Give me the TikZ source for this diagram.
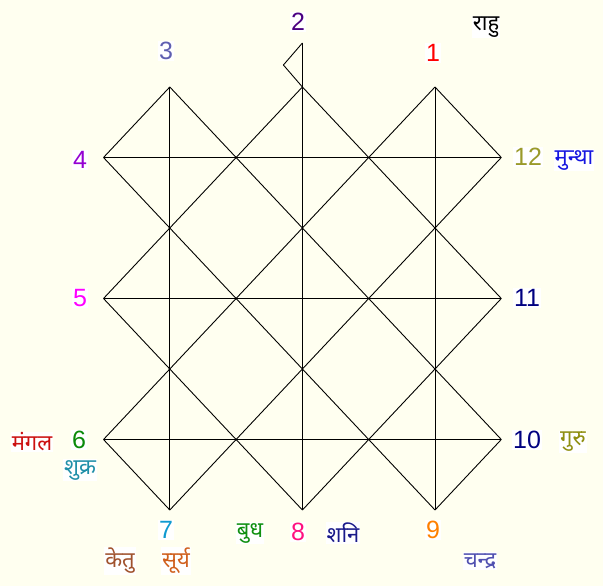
\documentclass[tikz,border=0pt]{standalone}
\usepackage{fontspec}
\usetikzlibrary{calc}
\setmainfont{Liberation Sans}
\newfontfamily\deva[Script=Devanagari]{Noto Sans}
\definecolor{bg}{HTML}{FFFFF0}
\definecolor{cone}{HTML}{FF0000}
\definecolor{ctwo}{HTML}{4B0082}
\definecolor{cthree}{HTML}{5F5FB0}
\definecolor{cfour}{HTML}{9400D3}
\definecolor{cfive}{HTML}{FF00FF}
\definecolor{csix}{HTML}{0A8A0A}
\definecolor{cseven}{HTML}{0F9AD0}
\definecolor{ceight}{HTML}{FF1080}
\definecolor{cnine}{HTML}{FF8000}
\definecolor{cnavy}{HTML}{000080}
\definecolor{colive}{HTML}{9A9A2A}
\definecolor{cmangal}{HTML}{CC1010}
\definecolor{cshukra}{HTML}{1F8FA8}
\definecolor{cmuntha}{HTML}{1515E0}
\definecolor{cguru}{HTML}{8F8F10}
\definecolor{cketu}{HTML}{A0522D}
\definecolor{csurya}{HTML}{D0601E}
\definecolor{cbudh}{HTML}{109010}
\definecolor{cshani}{HTML}{1A1A8A}
\definecolor{cchandra}{HTML}{5050B0}
\begin{document}
\begin{tikzpicture}[x=1pt,y=-1pt,line width=0.9pt,
  num/.style={font=\fontsize{25}{25}\selectfont,fill=white,inner sep=1pt},
  hin/.style={font=\deva\fontsize{22}{24}\selectfont,fill=white,inner sep=1pt,yshift=-3pt},
  gridline/.style={draw=black,line width=0.9pt}]
\fill[bg] (0,0) rectangle (603,586);
\useasboundingbox (0,0) rectangle (603,586);
\foreach \i in {0,...,6} {
  \foreach \j in {0,...,6} {
    \coordinate (p\i\j) at ({103.5+66.3*\i},{87+70.5*\j});
  }
}
\coordinate (toptwo) at ($(p30)+(0,-44)$);
\coordinate (flag) at ($(p30)+(-19,-22)$);
% horizontals
\draw[gridline] (p01) -- (p61);
\draw[gridline] (p03) -- (p63);
\draw[gridline] (p05) -- (p65);
% verticals
\draw[gridline] (p10) -- (p16);
\draw[gridline] (toptwo) -- (p36);
\draw[gridline] (p50) -- (p56);
% down-right diagonals
\draw[gridline] (p10) -- (p65);
\draw[gridline] (p30) -- (p63);
\draw[gridline] (p50) -- (p61);
\draw[gridline] (p01) -- (p56);
\draw[gridline] (p03) -- (p36);
\draw[gridline] (p05) -- (p16);
% down-left diagonals
\draw[gridline] (p10) -- (p01);
\draw[gridline] (p30) -- (p03);
\draw[gridline] (p50) -- (p05);
\draw[gridline] (p61) -- (p16);
\draw[gridline] (p63) -- (p36);
\draw[gridline] (p65) -- (p56);
% flag
\draw[gridline] (toptwo) -- (flag) -- (p30);
% numbers
\node[num,text=ctwo] (n2) at (298,22) {2};
\node[num,text=cthree] (n3) at (166,51) {3};
\node[num,text=cone] (n1) at (433,53) {1};
\node[num,text=cfour] (n4) at (80,160) {4};
\node[num,text=cfive] (n5) at (80,298) {5};
\node[num,text=csix] (n6) at (79,440) {6};
\node[num,text=colive] (n12) at (528,157) {12};
\node[num,text=cnavy] (n11) at (527,298) {11};
\node[num,text=cnavy] (n10) at (527,440) {10};
\node[num,text=cseven] (n7) at (166,530) {7};
\node[num,text=ceight] (n8) at (298,532) {8};
\node[num,text=cnine] (n9) at (433,530) {9};
% planets
\node[hin,text=black] (rahu) at (486,24) {राहु};
\node[hin,text=cmuntha] (muntha) at (574,157) {मुन्था};
\node[hin,text=cmangal] (mangal) at (32,439) {मंगल};
\node[hin,text=cshukra] (shukra) at (80,467) {शुक्र};
\node[hin,text=cguru] (guru) at (573,439) {गुरु};
\node[hin,text=cketu] (ketu) at (120,558) {केतु};
\node[hin,text=csurya] (surya) at (176,558) {सूर्य};
\node[hin,text=cbudh] (budh) at (250,530) {बुध};
\node[hin,text=cshani] (shani) at (343,530) {शनि};
\node[hin,text=cchandra] (chandra) at (480,558) {चन्द्र};
\end{tikzpicture}
\end{document}
